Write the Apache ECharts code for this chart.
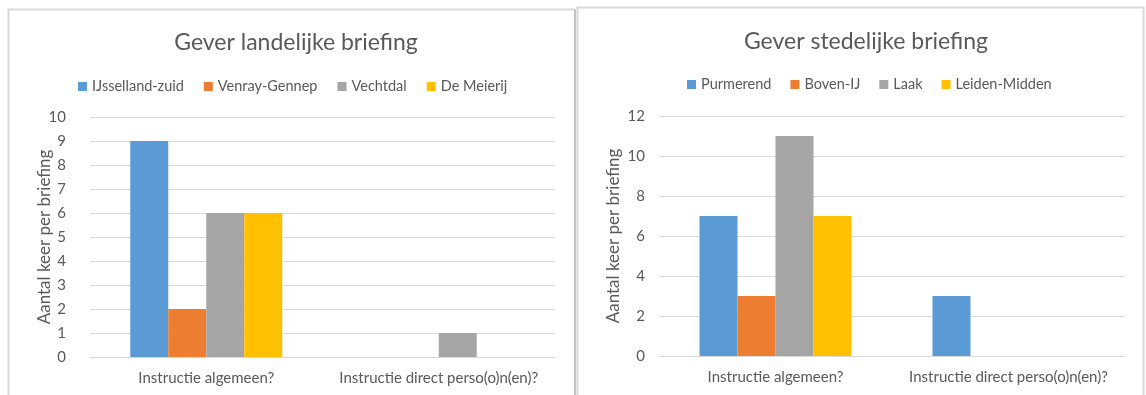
<!DOCTYPE html>
<html>
<head>
<meta charset="utf-8">
<script src="https://cdn.jsdelivr.net/npm/echarts@6/dist/echarts.min.js"></script>
<style>
  html, body { margin: 0; padding: 0; background: #ffffff; }
  #chart { width: 1146px; height: 395px; }
</style>
</head>
<body>
<div id="chart"></div>
<script>
// Briefing counts per district, split into rural and urban briefing givers
const categories = ['Instructie algemeen?', 'Instructie direct perso(o)n(en)?'];

const ruralTitle = 'Gever landelijke briefing';
const ruralNames = ['IJsselland-zuid', 'Venray-Gennep', 'Vechtdal', 'De Meierij'];
const ruralValues = [
  [9, 0],
  [2, 0],
  [6, 1],
  [6, 0]
];

const urbanTitle = 'Gever stedelijke briefing';
const urbanNames = ['Purmerend', 'Boven-IJ', 'Laak', 'Leiden-Midden'];
const urbanValues = [
  [7, 3],
  [3, 0],
  [11, 0],
  [7, 0]
];

const yAxisTitle = 'Aantal keer per briefing';
const ruralAxis = { max: 10, interval: 1 };
const urbanAxis = { max: 12, interval: 2 };

const palette = ['#5b9bd5', '#ed7d31', '#a5a5a5', '#ffc000'];
const textColor = '#595959';
const gridColor = '#d9d9d9';
const fontFamily = 'Lato, "Open Sans", sans-serif';

function makeSeries(names, values, gridIdx) {
  return names.map((name, i) => ({
    name: name,
    type: 'bar',
    xAxisIndex: gridIdx,
    yAxisIndex: gridIdx,
    data: values[i].map(v => (v === 0 ? null : v)),
    barWidth: 38,
    barGap: '0%',
    itemStyle: { color: palette[i] },
    emphasis: { disabled: true },
    animation: false
  }));
}

function xAxis(gridIdx) {
  return {
    type: 'category',
    gridIndex: gridIdx,
    data: categories,
    axisLine: { lineStyle: { color: gridColor, width: 1 } },
    axisTick: { show: false },
    axisLabel: { interval: 0, color: textColor, fontSize: 15, fontFamily: fontFamily, margin: 14 }
  };
}

function yAxis(gridIdx, cfg, labelMargin) {
  return {
    type: 'value',
    gridIndex: gridIdx,
    min: 0,
    max: cfg.max,
    interval: cfg.interval,
    name: yAxisTitle,
    nameLocation: 'middle',
    nameRotate: 90,
    nameGap: 37,
    nameMoveOverlap: false,
    nameTextStyle: { color: textColor, fontSize: 17, fontFamily: fontFamily },
    axisLine: { show: false },
    axisTick: { show: false },
    splitLine: { lineStyle: { color: gridColor, width: 1 } },
    axisLabel: { color: textColor, fontSize: 15, fontFamily: fontFamily, margin: labelMargin }
  };
}

const chart = echarts.init(document.getElementById('chart'), null, { renderer: 'canvas' });

const titleStyle = { color: textColor, fontSize: 23, fontWeight: 'normal', fontFamily: fontFamily };
const legendStyle = { color: textColor, fontSize: 14.5, fontFamily: fontFamily };

chart.setOption({
  backgroundColor: '#ffffff',
  animation: false,
  title: [
    { text: ruralTitle, left: 291, top: 26, textAlign: 'center', textStyle: titleStyle },
    { text: urbanTitle, left: 861, top: 25, textAlign: 'center', textStyle: titleStyle }
  ],
  legend: [
    {
      data: ruralNames, left: 73, top: 74, icon: 'rect', itemWidth: 9, itemHeight: 9, itemGap: 20,
      textStyle: legendStyle, selectedMode: false
    },
    {
      data: urbanNames, left: 682, top: 72, icon: 'rect', itemWidth: 9, itemHeight: 9, itemGap: 19,
      textStyle: legendStyle, selectedMode: false
    }
  ],
  grid: [
    { left: 90, right: 591, top: 117, bottom: 38 },
    { left: 659, right: 21, top: 116, bottom: 39 }
  ],
  xAxis: [xAxis(0), xAxis(1)],
  yAxis: [yAxis(0, ruralAxis, 24), yAxis(1, urbanAxis, 14)],
  series: makeSeries(ruralNames, ruralValues, 0).concat(makeSeries(urbanNames, urbanValues, 1)),
  graphic: [
    // panel frames
    { type: 'polyline', silent: true, shape: { points: [[8.5, 395], [8.5, 9.5], [574, 9.5]] },
      style: { stroke: '#d9d9d9', lineWidth: 2, fill: null } },
    { type: 'rect', silent: true, shape: { x: 574, y: 9, width: 2, height: 386 },
      style: { fill: '#c4c4c4' } },
    { type: 'polyline', silent: true, shape: { points: [[577.5, 395], [577.5, 7.5], [1143.5, 7.5], [1143.5, 395]] },
      style: { stroke: '#d9d9d9', lineWidth: 2, fill: null } }
  ]
});
</script>
</body>
</html>
